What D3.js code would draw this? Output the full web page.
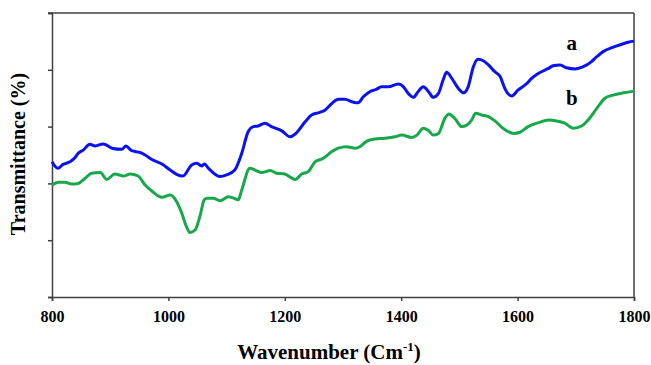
<!DOCTYPE html>
<html>
<head>
<meta charset="utf-8">
<script src="https://cdn.jsdelivr.net/npm/d3@7"></script>
<style>
  body { margin: 0; background: #fff; overflow: hidden; }
  svg { display: block; }
  text { font-family: "Liberation Serif", "Times New Roman", serif; font-weight: bold; fill: #000; }
</style>
</head>
<body>
<svg id="chart"></svg>
<script>
// Spectrum a (blue)
const wavenumberA = [800, 810, 819, 831, 840, 845, 854, 865, 874, 888, 903, 920, 927, 937, 951, 960, 971, 989, 1003, 1014, 1025, 1040, 1049, 1057, 1062, 1069, 1089, 1100, 1114, 1126, 1137, 1146, 1154, 1166, 1177, 1195, 1209, 1218, 1235, 1246, 1260, 1269, 1281, 1292, 1303, 1318, 1326, 1335, 1346, 1358, 1366, 1378, 1395, 1404, 1412, 1421, 1429, 1438, 1447, 1455, 1464, 1472, 1478, 1487, 1498, 1507, 1515, 1524, 1532, 1541, 1550, 1561, 1570, 1578, 1581, 1590, 1601, 1616, 1624, 1636, 1653, 1661, 1673, 1684, 1699, 1713, 1727, 1736, 1747, 1762, 1779, 1790, 1800];
const transA = [47.6, 45.3, 46.7, 47.6, 49.2, 50.6, 51.8, 53.8, 53.2, 53.9, 52.4, 52.0, 53.2, 51.5, 50.9, 50.0, 48.5, 46.8, 44.7, 43.2, 42.6, 46.5, 47.1, 46.1, 46.8, 45.3, 42.4, 43.0, 44.7, 50.6, 58.2, 60.0, 60.2, 61.2, 60.0, 58.5, 56.4, 57.4, 61.7, 64.1, 65.0, 65.8, 68.2, 69.6, 69.6, 68.6, 68.4, 70.5, 72.3, 73.2, 74.0, 74.0, 75.0, 74.0, 71.7, 70.3, 72.3, 74.0, 72.3, 70.3, 71.7, 76.4, 79.1, 77.0, 73.5, 71.9, 74.0, 81.1, 83.7, 83.2, 81.7, 79.3, 77.6, 73.5, 72.3, 70.8, 72.9, 75.2, 77.0, 78.8, 80.5, 81.4, 81.7, 80.7, 80.3, 81.1, 82.9, 84.6, 86.4, 87.8, 89.0, 89.7, 90.1];

// Spectrum b (green)
const wavenumberB = [800, 811, 822, 834, 845, 857, 868, 883, 894, 908, 923, 934, 948, 960, 971, 989, 1003, 1014, 1023, 1031, 1037, 1046, 1054, 1062, 1066, 1077, 1089, 1103, 1112, 1120, 1126, 1140, 1149, 1160, 1175, 1186, 1200, 1218, 1229, 1240, 1252, 1266, 1281, 1292, 1306, 1321, 1329, 1341, 1355, 1372, 1389, 1401, 1418, 1427, 1438, 1447, 1455, 1464, 1475, 1482, 1492, 1504, 1513, 1521, 1528, 1538, 1550, 1561, 1575, 1593, 1604, 1618, 1636, 1653, 1667, 1681, 1696, 1710, 1721, 1736, 1750, 1764, 1782, 1800];
const transB = [39.4, 40.4, 40.4, 39.8, 40.0, 41.8, 43.6, 43.8, 41.4, 43.3, 42.6, 43.3, 42.6, 39.4, 37.4, 35.1, 35.9, 33.6, 29.5, 24.8, 22.7, 23.6, 28.3, 34.4, 34.8, 34.8, 33.9, 35.3, 34.8, 34.2, 37.7, 45.3, 44.7, 43.8, 44.5, 43.6, 43.3, 41.4, 43.3, 44.1, 47.6, 48.8, 51.2, 52.4, 52.9, 52.4, 52.9, 54.9, 55.6, 55.9, 56.4, 57.0, 56.2, 57.0, 59.4, 58.6, 57.0, 57.6, 62.9, 64.4, 62.9, 60.0, 60.6, 62.3, 64.7, 64.1, 63.5, 62.0, 59.4, 57.6, 58.0, 60.0, 61.4, 62.3, 62.0, 61.2, 59.4, 60.2, 62.3, 66.4, 70.0, 71.1, 71.9, 72.5];

const xTicks = [800, 1000, 1200, 1400, 1600, 1800];
const yTicks = [0, 20, 40, 60, 80, 100];
const seriesLabels = ["a", "b"];

const width = 651;
const height = 365;
const margin = { top: 13, right: 17, bottom: 68, left: 52 };
const innerWidth = width - margin.left - margin.right;
const innerHeight = height - margin.top - margin.bottom;
const axisColor = "#404040";

const svg = d3.select("#chart")
    .attr("width", width)
    .attr("height", height)
    .attr("viewBox", `0 0 ${width} ${height}`);

const innerChart = svg.append("g")
    .attr("transform", `translate(${margin.left},${margin.top})`);

const xScale = d3.scaleLinear().domain([800, 1800]).range([0, innerWidth]);
const yScale = d3.scaleLinear().domain([0, 100]).range([innerHeight, 0]);

// Frame (top and right)
innerChart.append("line")
    .attr("x1", -4).attr("x2", innerWidth)
    .attr("y1", 0).attr("y2", 0)
    .attr("stroke", axisColor).attr("stroke-width", 1.5);
innerChart.append("line")
    .attr("x1", innerWidth).attr("x2", innerWidth)
    .attr("y1", 0).attr("y2", innerHeight)
    .attr("stroke", axisColor).attr("stroke-width", 1.5);

// Bottom axis
const bottomAxis = d3.axisBottom(xScale)
    .tickValues(xTicks)
    .tickSize(4)
    .tickPadding(10)
    .tickFormat(d3.format("d"));
const xAxisG = innerChart.append("g")
    .attr("transform", `translate(0, ${innerHeight})`)
    .call(bottomAxis);

// Left axis, ticks only
const leftAxis = d3.axisLeft(yScale)
    .tickValues(yTicks)
    .tickSize(4);
const yAxisG = innerChart.append("g").call(leftAxis);
yAxisG.selectAll(".tick text").remove();

[xAxisG, yAxisG].forEach(g => {
    g.select(".domain").attr("stroke", axisColor).attr("stroke-width", 1.5);
    g.selectAll(".tick line").attr("stroke", axisColor).attr("stroke-width", 1.5);
});
xAxisG.selectAll(".tick text")
    .attr("fill", "#000")
    .style("font-size", "16px")
    .style("font-family", "'Liberation Serif', 'Times New Roman', serif")
    .style("font-weight", "bold");

// Spectra
const line = d3.line()
    .x(d => xScale(d[0]))
    .y(d => yScale(d[1]))
    .curve(d3.curveMonotoneX);

const series = [
    { points: d3.zip(wavenumberA, transA), color: "#0a12f2" },
    { points: d3.zip(wavenumberB, transB), color: "#17a84a" }
];

innerChart.selectAll("path.spectrum")
    .data(series)
    .join("path")
    .attr("class", "spectrum")
    .attr("d", d => line(d.points))
    .attr("fill", "none")
    .attr("stroke", d => d.color)
    .attr("stroke-width", 3)
    .attr("stroke-linejoin", "round");

// Curve labels
innerChart.selectAll("text.series-label")
    .data(seriesLabels)
    .join("text")
    .attr("class", "series-label")
    .text(d => d)
    .attr("text-anchor", "middle")
    .attr("x", xScale(1693))
    .attr("y", (d, i) => i === 0 ? yScale(87) : yScale(67.5))
    .style("font-size", "21px");

// Axis labels
const xLabel = svg.append("text")
    .attr("text-anchor", "middle")
    .attr("x", 329)
    .attr("y", 359)
    .style("font-size", "21px");
xLabel.append("tspan").text("Wavenumber (Cm");
xLabel.append("tspan").text("-1").attr("dy", -8).style("font-size", "13px");
xLabel.append("tspan").text(")").attr("dy", 8);

svg.append("text")
    .text("Transmittance (%)")
    .attr("text-anchor", "middle")
    .attr("transform", "translate(25, 154) rotate(-90)")
    .style("font-size", "20px");
</script>
</body>
</html>
